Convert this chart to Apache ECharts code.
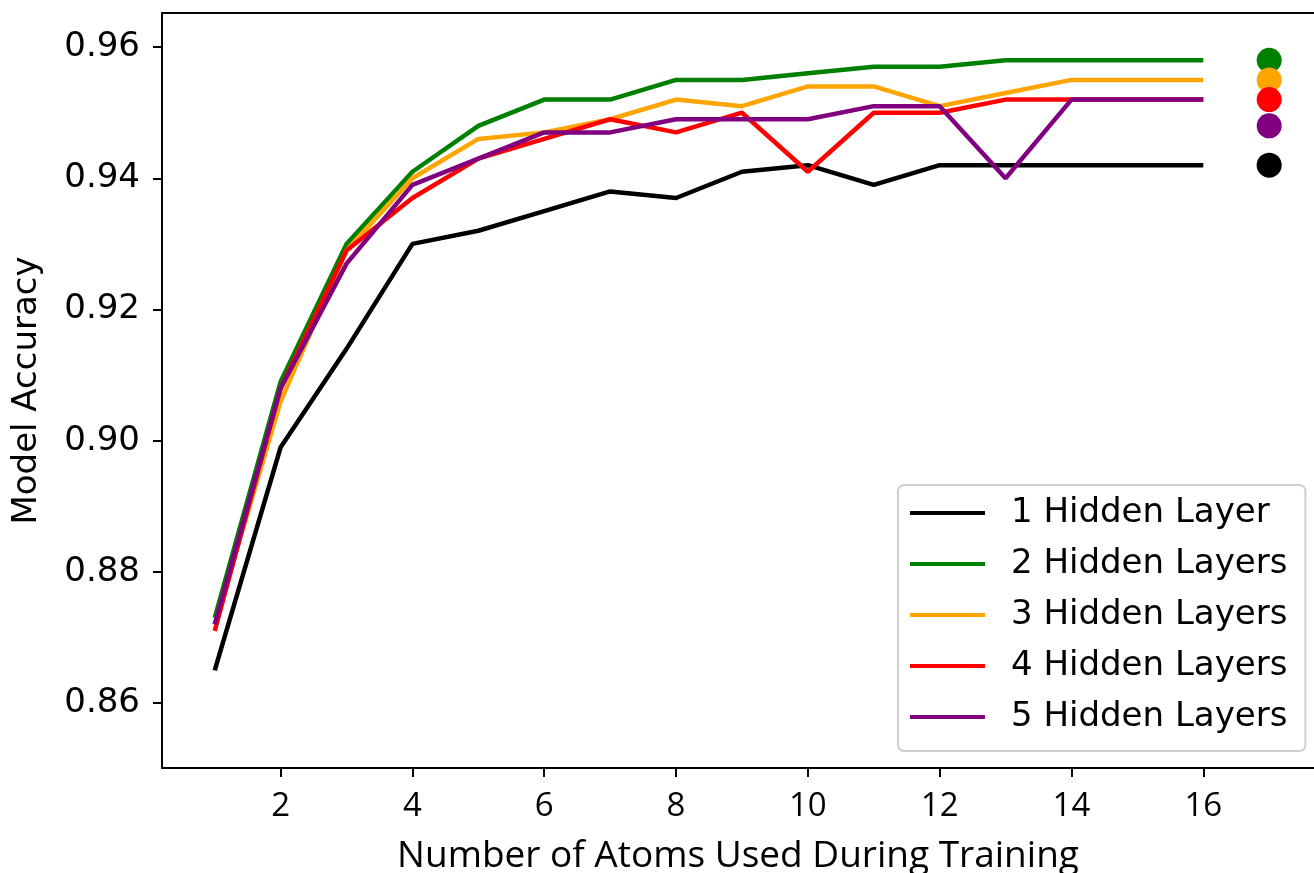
<!DOCTYPE html>
<html lang="en">
  <head>
    <meta charset="UTF-8" />
    <title>Model Accuracy</title>
    <style>
      html, body { margin: 0; padding: 0; background: #fff; }
      #main { width: 1314px; height: 873px; }
    </style>
  </head>
  <body>
    <script src="https://cdn.jsdelivr.net/npm/echarts@6/dist/echarts.min.js"></script>
    <div id="main"></div>
    <script>
      // data
      const atoms = [1, 2, 3, 4, 5, 6, 7, 8, 9, 10, 11, 12, 13, 14, 15, 16]
      const oneLayer = [0.865, 0.899, 0.914, 0.930, 0.932, 0.935, 0.938, 0.937, 0.941, 0.942, 0.939, 0.942, 0.942, 0.942, 0.942, 0.942]
      const twoLayers = [0.873, 0.909, 0.930, 0.941, 0.948, 0.952, 0.952, 0.955, 0.955, 0.956, 0.957, 0.957, 0.958, 0.958, 0.958, 0.958]
      const threeLayers = [0.872, 0.906, 0.929, 0.940, 0.946, 0.947, 0.949, 0.952, 0.951, 0.954, 0.954, 0.951, 0.953, 0.955, 0.955, 0.955]
      const fourLayers = [0.871, 0.908, 0.929, 0.937, 0.943, 0.946, 0.949, 0.947, 0.950, 0.941, 0.950, 0.950, 0.952, 0.952, 0.952, 0.952]
      const fiveLayers = [0.872, 0.908, 0.927, 0.939, 0.943, 0.947, 0.947, 0.949, 0.949, 0.949, 0.951, 0.951, 0.940, 0.952, 0.952, 0.952]
      // separate markers at x = 17
      const finalX = 17
      const finalValues = [0.942, 0.958, 0.955, 0.952, 0.948]

      const names = ['1 Hidden Layer', '2 Hidden Layers', '3 Hidden Layers', '4 Hidden Layers', '5 Hidden Layers']
      const colors = ['#000000', '#008000', '#ffa500', '#ff0000', '#800080']
      const xTicks = [2, 4, 6, 8, 10, 12, 14, 16]
      const yTicks = [0.86, 0.88, 0.90, 0.92, 0.94, 0.96]

      const allSeries = [oneLayer, twoLayers, threeLayers, fourLayers, fiveLayers]

      const chart = echarts.init(document.getElementById('main'))

      const lineSeries = allSeries.map((vals, i) => ({
        name: names[i],
        type: 'line',
        symbol: 'none',
        data: atoms.map((a, j) => [a, vals[j]]),
        lineStyle: { color: colors[i], width: 4.5 },
        itemStyle: { color: colors[i] },
        z: 3
      }))

      const dotSeries = {
        type: 'scatter',
        symbolSize: 25,
        data: finalValues.map((v, i) => ({
          value: [finalX, v],
          itemStyle: { color: colors[i], opacity: 1 }
        })),
        z: 4
      }

      // the picture is cropped on the right, so the axis runs to the edge
      const xMin = 0.2
      const xMax = 17.68

      chart.setOption({
        backgroundColor: '#fff',
        animation: false,
        grid: {
          left: 162,
          right: 0,
          top: 13,
          bottom: 105,
          outerBoundsMode: 'none'
        },
        legend: {
          data: names,
          orient: 'vertical',
          left: 898,
          top: 485,
          padding: [10, 18, 16, 12],
          icon: 'rect',
          itemWidth: 75,
          itemHeight: 4,
          itemGap: 15,
          backgroundColor: '#fff',
          borderColor: '#cfcfcf',
          borderWidth: 2,
          borderRadius: 6,
          textStyle: {
            fontFamily: 'DejaVu Sans',
            fontSize: 34,
            lineHeight: 36,
            color: '#000',
            padding: [0, 0, 0, 21]
          }
        },
        xAxis: [{
          type: 'value',
          min: xMin,
          max: xMax,
          name: 'Number of Atoms Used During Training',
          nameLocation: 'middle',
          nameGap: 70,
          nameTextStyle: { fontFamily: 'Open Sans', fontSize: 37, color: '#000' },
          splitLine: { show: false },
          axisLine: { lineStyle: { color: '#000', width: 2 } },
          axisTick: { customValues: xTicks, length: 9, lineStyle: { color: '#000', width: 2 } },
          axisLabel: {
            customValues: xTicks,
            margin: 22,
            fontFamily: 'Open Sans',
            fontSize: 33,
            color: '#000'
          }
        }, {
          type: 'value',
          position: 'top',
          min: xMin,
          max: xMax,
          splitLine: { show: false },
          axisLine: { show: true, lineStyle: { color: '#000', width: 2 } },
          axisTick: { show: false },
          axisLabel: { show: false }
        }],
        yAxis: {
          type: 'value',
          min: 0.8501,
          max: 0.9652,
          name: 'Model Accuracy',
          nameLocation: 'middle',
          nameGap: 118,
          nameTextStyle: { fontFamily: 'DejaVu Sans', fontSize: 34, color: '#000' },
          splitLine: { show: false },
          axisLine: { lineStyle: { color: '#000', width: 2 } },
          axisTick: { customValues: yTicks, length: 9, lineStyle: { color: '#000', width: 2 } },
          axisLabel: {
            customValues: yTicks,
            margin: 22,
            fontFamily: 'DejaVu Sans',
            fontSize: 34,
            color: '#000',
            formatter: v => v.toFixed(2)
          }
        },
        series: [...lineSeries, dotSeries]
      })
    </script>
  </body>
</html>
